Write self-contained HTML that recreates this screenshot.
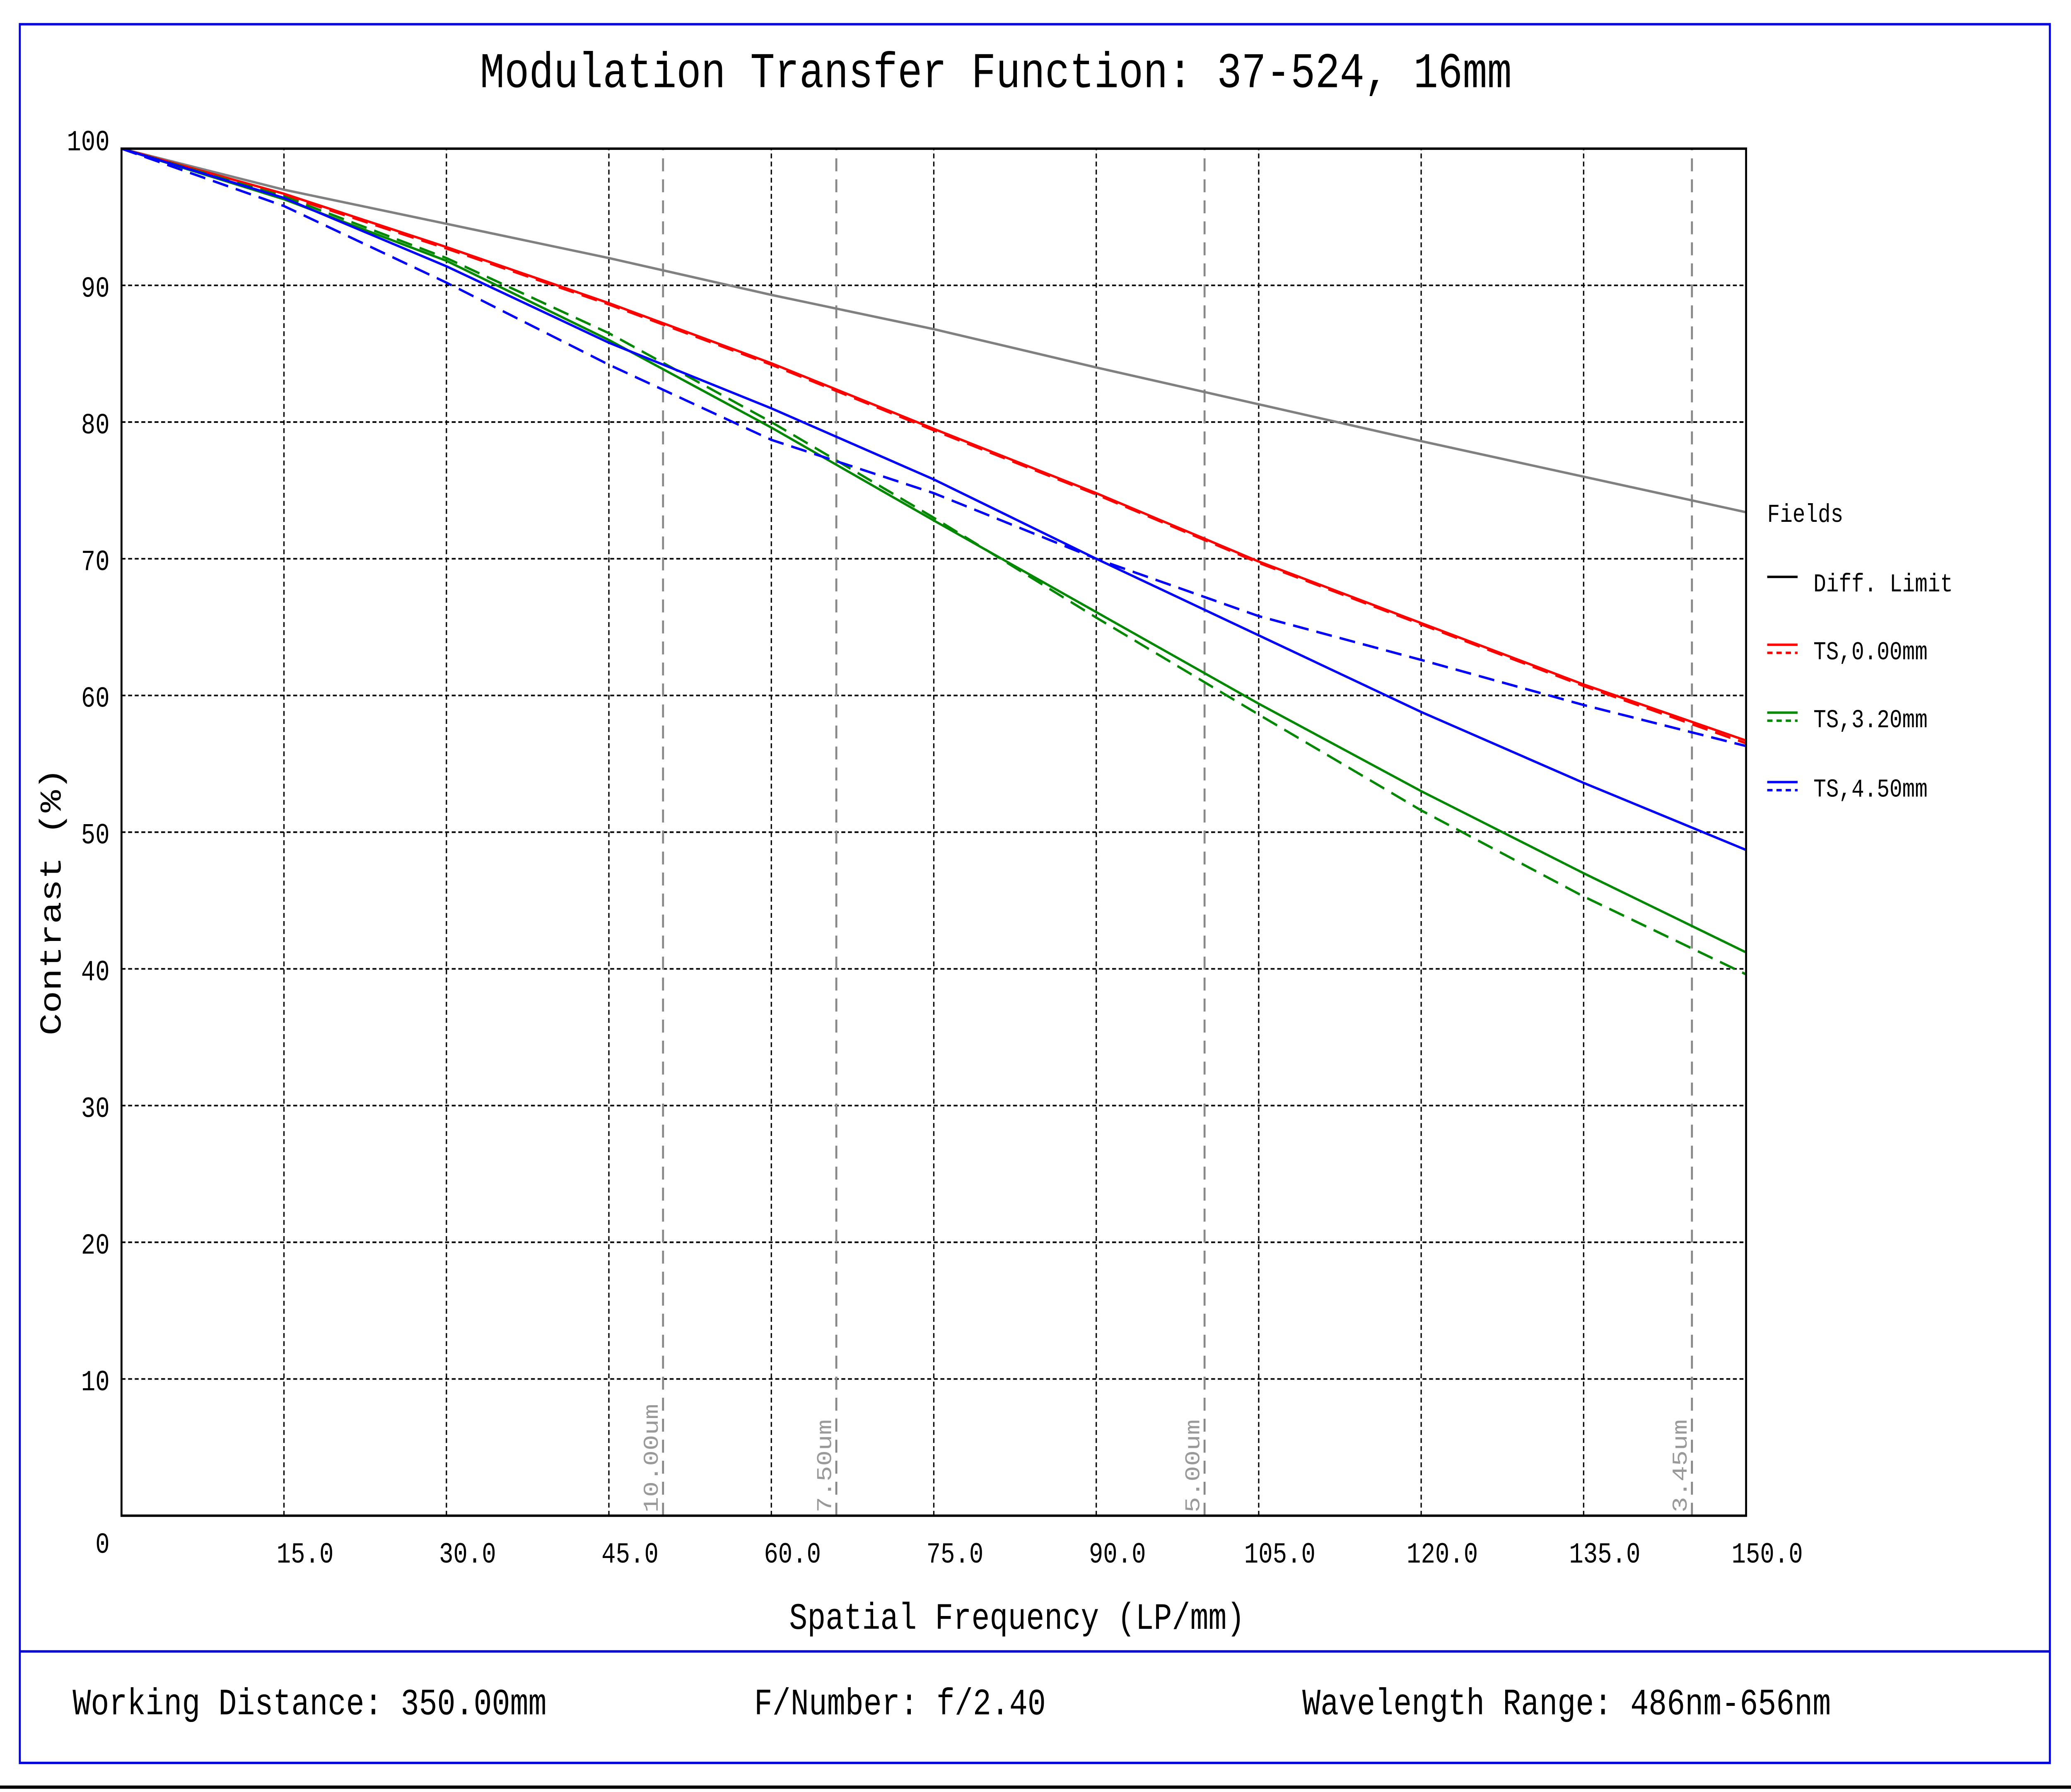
<!DOCTYPE html>
<html><head><meta charset="utf-8"><style>
html,body{margin:0;padding:0;background:#fff;overflow:hidden;width:100%;height:100%}
svg{display:block;position:absolute;left:0;top:0;width:100vw;height:100vh}
text{font-family:"Liberation Mono",monospace}
</style></head><body>
<svg id="chart" viewBox="0 0 1568 1109" preserveAspectRatio="none" xmlns="http://www.w3.org/2000/svg">
<rect x="0" y="0" width="1568" height="1109" fill="#fff"/>
<rect x="15" y="15" width="1537" height="1076" fill="none" stroke="#0000dd" stroke-width="1.5"/>
<line x1="15" y1="1022" x2="1552" y2="1022" stroke="#0000dd" stroke-width="1.5"/>
<line x1="0" y1="1106" x2="1568" y2="1106" stroke="#000" stroke-width="2"/>
<text x="754" y="54" font-size="31" text-anchor="middle">Modulation Transfer Function: 37-524, 16mm</text>
<g id="grid"></g>
<g id="marks"></g>
<rect x="92" y="92" width="1230" height="846" fill="none" stroke="#000" stroke-width="1.5"/>
<g id="ticks"></g>
<text x="770" y="1008" font-size="23" text-anchor="middle">Spatial Frequency (LP/mm)</text>
<text x="0" y="0" font-size="23" text-anchor="middle" transform="translate(46,558) rotate(-90)">Contrast (%)</text>
<g>
<text x="1338" y="323" font-size="16">Fields</text>
<line x1="1338" y1="357" x2="1361" y2="357" stroke="#000" stroke-width="1.5"/>
<text x="1373" y="366" font-size="16">Diff. Limit</text>
<line x1="1338" y1="399" x2="1361" y2="399" stroke="#f00" stroke-width="1.5"/>
<line x1="1338" y1="404" x2="1361" y2="404" stroke="#f00" stroke-width="1.5" stroke-dasharray="4,3"/>
<text x="1373" y="408" font-size="16">TS,0.00mm</text>
<line x1="1338" y1="441" x2="1361" y2="441" stroke="#080" stroke-width="1.5"/>
<line x1="1338" y1="446" x2="1361" y2="446" stroke="#080" stroke-width="1.5" stroke-dasharray="4,3"/>
<text x="1373" y="450" font-size="16">TS,3.20mm</text>
<line x1="1338" y1="484" x2="1361" y2="484" stroke="#00f" stroke-width="1.5"/>
<line x1="1338" y1="489" x2="1361" y2="489" stroke="#00f" stroke-width="1.5" stroke-dasharray="4,3"/>
<text x="1373" y="493" font-size="16">TS,4.50mm</text>
</g>
<text x="55" y="1061" font-size="23">Working Distance: 350.00mm</text>
<text x="571" y="1061" font-size="23">F/Number: f/2.40</text>
<text x="986" y="1061" font-size="23">Wavelength Range: 486nm-656nm</text>
</svg>
<script>
const freqs = [0,15,30,45,60,75,90,105,120,135,150];
const diffLimit = [100,97,94.5,92,89.3,86.8,84,81.3,78.6,76,73.4];
const ts0Tan = [100,96.7,92.8,88.7,84.3,79.5,74.8,69.8,65.3,60.8,56.7];
const ts0Sag = [100,96.6,92.7,88.6,84.2,79.4,74.7,69.7,65.2,60.7,56.5];
const ts32Tan = [100,96.3,91.8,86,79.6,72.8,66.1,59.4,53,47,41.2];
const ts32Sag = [100,96.5,92,86.5,80,73,65.7,58.6,51.6,45.3,39.6];
const ts45Tan = [100,96.4,91.4,85.8,81,75.8,70,64.4,58.8,53.6,48.7];
const ts45Sag = [100,95.8,90.2,84.2,78.7,74.8,70,65.8,62.6,59.3,56.3];
const xTicks = [15,30,45,60,75,90,105,120,135,150];
const xTickLabels = ["15.0","30.0","45.0","60.0","75.0","90.0","105.0","120.0","135.0","150.0"];
const yTicks = [0,10,20,30,40,50,60,70,80,90,100];
const pixelLimits = [50,66,100,145];
const pixelLabels = ["10.00um","7.50um","5.00um","3.45um"];

const NS="http://www.w3.org/2000/svg";
const X0=92,X1=1322,Y0=938,Y1=92;
function sx(v){return X0+(v/150)*(X1-X0);}
function sy(v){return Y0-(v/100)*(Y0-Y1);}
function mk(tag,attrs,parent){const e=document.createElementNS(NS,tag);for(const k in attrs)e.setAttribute(k,attrs[k]);parent.appendChild(e);return e;}
const grid=document.getElementById('grid'),marks=document.getElementById('marks'),ticks=document.getElementById('ticks');

xTicks.forEach((t,i)=>{
  if(t<150){const l=mk('line',{x1:sx(t),y1:Y0,x2:sx(t),y2:Y1,stroke:'#000','stroke-width':1,'stroke-dasharray':'3,2'},grid);
  
  }
  const tx=mk('text',{x:sx(t)+16,y:967,'font-size':18,'text-anchor':'middle'},ticks);
  tx.textContent=xTickLabels[i];
  
  
});
yTicks.forEach(t=>{
  if(t>0&&t<100){const l=mk('line',{x1:X0,y1:sy(t),x2:X1,y2:sy(t),stroke:'#000','stroke-width':1,'stroke-dasharray':'3,2'},grid);
  
  }
  let y=sy(t)+7; if(t===100)y=93; if(t===0)y=961;
  const tx=mk('text',{x:83,y:y,'font-size':18,'text-anchor':'end'},ticks);
  tx.textContent=String(t);
  
  
});
pixelLimits.forEach((p,i)=>{
  const l=mk('line',{x1:sx(p),y1:Y0,x2:sx(p),y2:Y1,stroke:'#888','stroke-width':1.5,'stroke-dasharray':'8,5'},grid);
  
  
  const tx=mk('text',{x:0,y:0,'font-size':16,fill:'#999',transform:`translate(${sx(p)-4},936) rotate(-90)`},grid);
  tx.textContent=pixelLabels[i];
  
  
});
function series(vals,color,dash,name){
  const d=vals.map((v,i)=>(i?'L':'M')+sx(freqs[i]).toFixed(1)+','+sy(v).toFixed(1)).join(' ');
  const p=mk('path',{d:d,fill:'none',stroke:color,'stroke-width':1.5},marks);
  if(dash)p.setAttribute('stroke-dasharray','12,6');
  
  
}
series(diffLimit,'#808080',false,'diff-limit-line');
series(ts0Sag,'#f00',true,'ts-0mm-sagittal');
series(ts0Tan,'#f00',false,'ts-0mm-tangential');
series(ts32Sag,'#080',true,'ts-3.20mm-sagittal');
series(ts32Tan,'#080',false,'ts-3.20mm-tangential');
series(ts45Sag,'#00f',true,'ts-4.50mm-sagittal');
series(ts45Tan,'#00f',false,'ts-4.50mm-tangential');
</script>
</body></html>
